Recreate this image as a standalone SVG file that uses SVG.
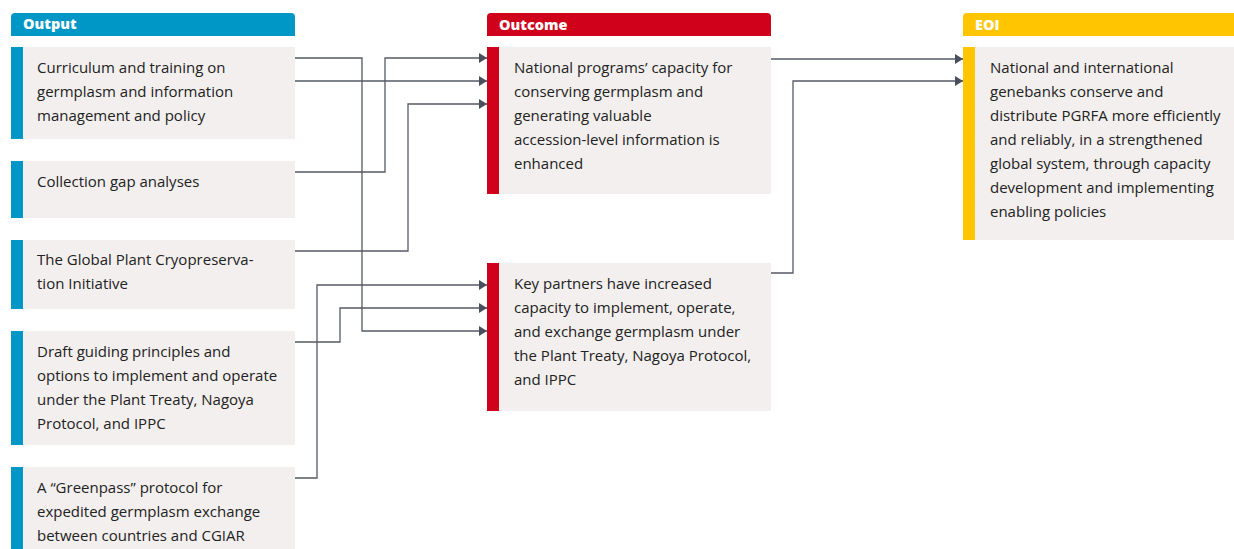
<svg xmlns="http://www.w3.org/2000/svg" width="1234" height="549" viewBox="0 0 1234 549">
<defs>
<style>
.hd{font-family:"Open Sans","Liberation Sans",sans-serif;font-weight:800;font-size:14.5px;fill:#fff}
.tx{font-family:"Open Sans","Liberation Sans",sans-serif;font-size:15px;fill:#222}
.bg{fill:#f2efee}
.blue{fill:#0096c6}
.red{fill:#d0021b}
.yel{fill:#ffc600}
.cn{fill:none;stroke:#555a66;stroke-width:1.3}
</style>
<marker id="ar" viewBox="0 0 8 10" refX="8" refY="5" markerWidth="8" markerHeight="10" markerUnits="userSpaceOnUse" orient="auto">
<path d="M0,0 L8,5 L0,10 Z" fill="#4a4f5c"/>
</marker>
</defs>
<rect width="1234" height="549" fill="#fff"/>

<g id="hdr-output"><path class="blue" d="M11,36 V17 a4,4 0 0 1 4,-4 H291 a4,4 0 0 1 4,4 V36 Z"/><text class="hd" x="23" y="29">Output</text></g>
<g id="hdr-outcome"><path class="red" d="M487,36 V17 a4,4 0 0 1 4,-4 H767 a4,4 0 0 1 4,4 V36 Z"/><text class="hd" x="499" y="30">Outcome</text></g>
<g id="hdr-eoi"><path class="yel" d="M963,36 V17 a4,4 0 0 1 4,-4 H1234 V36 Z"/><text class="hd" x="975" y="30">EOI</text></g>

<g id="out1"><rect class="bg" x="23" y="47" width="272" height="92"/><rect class="blue" x="11" y="47" width="12" height="92"/>
<text class="tx" x="37" y="73">Curriculum and training on</text><text class="tx" x="37" y="97">germplasm and information</text><text class="tx" x="37" y="121">management and policy</text></g>
<g id="out2"><rect class="bg" x="23" y="161" width="272" height="57"/><rect class="blue" x="11" y="161" width="12" height="57"/>
<text class="tx" x="37" y="187">Collection gap analyses</text></g>
<g id="out3"><rect class="bg" x="23" y="240" width="272" height="69"/><rect class="blue" x="11" y="240" width="12" height="69"/>
<text class="tx" x="37" y="265">The Global Plant Cryopreserva-</text><text class="tx" x="37" y="289">tion Initiative</text></g>
<g id="out4"><rect class="bg" x="23" y="331" width="272" height="114"/><rect class="blue" x="11" y="331" width="12" height="114"/>
<text class="tx" x="37" y="357">Draft guiding principles and</text><text class="tx" x="37" y="381">options to implement and operate</text><text class="tx" x="37" y="405">under the Plant Treaty, Nagoya</text><text class="tx" x="37" y="429">Protocol, and IPPC</text></g>
<g id="out5"><rect class="bg" x="23" y="467" width="272" height="82"/><rect class="blue" x="11" y="467" width="12" height="82"/>
<text class="tx" x="37" y="493">A “Greenpass” protocol for</text><text class="tx" x="37" y="517">expedited germplasm exchange</text><text class="tx" x="37" y="541">between countries and CGIAR</text></g>

<g id="oc1"><rect class="bg" x="499" y="47" width="272" height="147"/><rect class="red" x="487" y="47" width="12" height="147"/>
<text class="tx" x="514" y="73">National programs’ capacity for</text><text class="tx" x="514" y="97">conserving germplasm and</text><text class="tx" x="514" y="121">generating valuable</text><text class="tx" x="514" y="145">accession-level information is</text><text class="tx" x="514" y="169">enhanced</text></g>
<g id="oc2"><rect class="bg" x="499" y="263" width="272" height="148"/><rect class="red" x="487" y="263" width="12" height="148"/>
<text class="tx" x="514" y="289">Key partners have increased</text><text class="tx" x="514" y="313">capacity to implement, operate,</text><text class="tx" x="514" y="337">and exchange germplasm under</text><text class="tx" x="514" y="361">the Plant Treaty, Nagoya Protocol,</text><text class="tx" x="514" y="385">and IPPC</text></g>

<g id="eoi"><rect class="bg" x="975" y="47" width="259" height="193"/><rect class="yel" x="963" y="47" width="12" height="193"/>
<text class="tx" x="990" y="73">National and international</text><text class="tx" x="990" y="97">genebanks conserve and</text><text class="tx" x="990" y="121">distribute PGRFA more efficiently</text><text class="tx" x="990" y="145">and reliably, in a strengthened</text><text class="tx" x="990" y="169">global system, through capacity</text><text class="tx" x="990" y="193">development and implementing</text><text class="tx" x="990" y="217">enabling policies</text></g>

<g id="connectors">
<path class="cn" marker-end="url(#ar)" d="M295,58 H362 V331 H487"/>
<path class="cn" marker-end="url(#ar)" d="M295,81 H487"/>
<path class="cn" marker-end="url(#ar)" d="M295,172 H385 V58 H487"/>
<path class="cn" marker-end="url(#ar)" d="M295,251 H408 V104 H487"/>
<path class="cn" marker-end="url(#ar)" d="M295,342 H340 V308 H487"/>
<path class="cn" marker-end="url(#ar)" d="M295,478 H317 V285 H487"/>
<path class="cn" marker-end="url(#ar)" d="M771,59 H963"/>
<path class="cn" marker-end="url(#ar)" d="M771,273 H793 V81 H963"/>
</g>
</svg>
